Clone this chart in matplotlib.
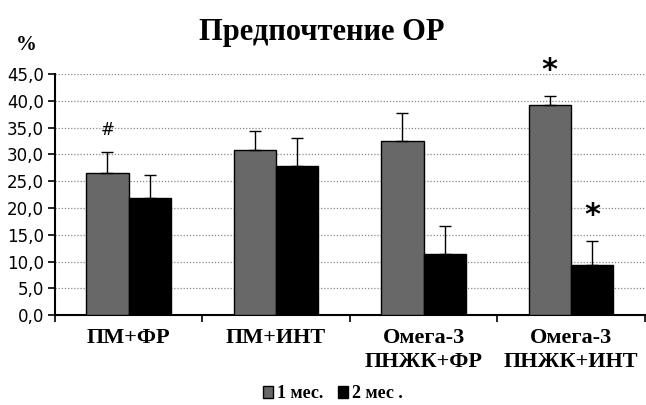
import matplotlib.pyplot as plt
import numpy as np

# Data
groups = ['ПМ+ФР', 'ПМ+ИНТ', 'Омега-3\nПНЖК+ФР', 'Омега-3\nПНЖК+ИНТ']
month1 = [26.6, 30.9, 32.5, 39.3]
month1_err = [3.8, 3.5, 5.3, 1.6]
month2 = [21.8, 27.9, 11.4, 9.3]
month2_err = [4.4, 5.1, 5.2, 4.5]

fig = plt.figure(figsize=(6.46, 4.05), dpi=100)
ax = fig.add_axes([0.085, 0.222, 0.913, 0.595])

x = np.arange(len(groups)) + 0.5
w = 0.287
ekw = dict(ecolor='black', elinewidth=1, capsize=4, capthick=1)
ax.bar(x - w / 2, month1, w, color='#686868', edgecolor='black', linewidth=1,
       yerr=[np.zeros(4), month1_err], error_kw=ekw, label='1 мес.', zorder=3)
ax.bar(x + w / 2, month2, w, color='black', edgecolor='black', linewidth=1,
       yerr=[np.zeros(4), month2_err], error_kw=ekw, label='2 мес .', zorder=3)

# significance marks
ax.text(x[0] - w / 2, 34.5, '#', ha='center', va='center', fontsize=12, family='DejaVu Sans')
ax.text(x[3] - w / 2, 45.6, '*', ha='center', va='center', fontsize=22, family='DejaVu Sans',
        fontweight='bold', clip_on=False)
ax.text(x[3] + w / 2, 18.6, '*', ha='center', va='center', fontsize=22, family='DejaVu Sans',
        fontweight='bold')

ax.set_xlim(0, 4)
ax.set_ylim(0, 45)
ax.set_yticks(np.arange(0, 46, 5))
ax.set_yticklabels([f'{v:.1f}'.replace('.', ',') for v in np.arange(0, 46, 5)],
                   fontsize=12, family='DejaVu Sans')
ax.yaxis.grid(True, linestyle=(0, (1, 1.5)), color='#888888', linewidth=0.9, zorder=0)
ax.set_axisbelow(True)

ax.set_xticks([0, 1, 2, 3, 4])
ax.set_xticklabels([])
ax.set_xticks(x, minor=True)
ax.set_xticklabels(groups, minor=True, fontsize=16, fontweight='bold',
                   family='Liberation Serif', linespacing=1.3)
ax.tick_params(axis='x', which='minor', length=0, pad=9)
ax.tick_params(axis='x', which='major', length=5, width=1.2, direction='out')
ax.tick_params(axis='y', length=5, width=1.2, direction='out', pad=3)

for s in ['top', 'right']:
    ax.spines[s].set_visible(False)
for s in ['left', 'bottom']:
    ax.spines[s].set_linewidth(1.5)

fig.text(0.498, 0.92, 'Предпочтение ОР', ha='center', va='center', fontsize=22,
         fontweight='bold', family='Liberation Serif')
fig.text(0.04, 0.89, '%', ha='center', va='center', fontsize=15,
         fontweight='bold', family='Liberation Serif')

fig.legend(loc='center', bbox_to_anchor=(0.515, 0.028), ncol=2, frameon=False,
           prop=dict(family='Liberation Serif', weight='bold', size=13),
           handlelength=0.6, handleheight=0.6, handletextpad=0.2, columnspacing=0.8)

fig.savefig('out.png', dpi=100)
